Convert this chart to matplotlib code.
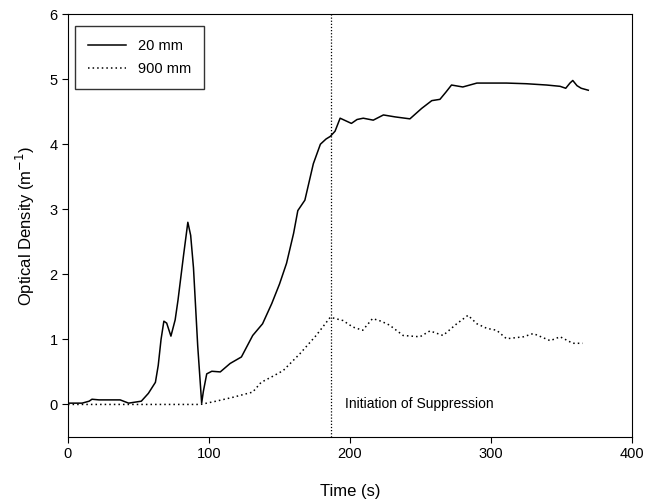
import numpy as np
import matplotlib.pyplot as plt

plt.rcParams['font.family'] = ['Liberation Sans', 'DejaVu Sans']

# 20 mm sensor
t20 = [0, 10, 15, 17, 22, 30, 37, 43, 52, 57, 62, 64, 66, 68, 70, 73, 76, 78, 82, 85, 87, 89,
       92, 94.8, 96, 98.4, 102, 108, 115, 123, 131, 138, 144.5, 150, 155, 160, 163, 168,
       174, 179, 183, 186, 189.4, 193, 197, 201, 205, 209.4, 216.5, 223.7, 232, 242.5,
       250.8, 258, 263.8, 268, 272, 280, 290, 300, 311, 325, 339.5, 349, 353, 356, 358,
       361, 364, 369]
od20 = [0.02, 0.02, 0.05, 0.08, 0.07, 0.07, 0.07, 0.02, 0.05, 0.17, 0.34, 0.6, 1.0, 1.28, 1.25,
        1.05, 1.3, 1.6, 2.3, 2.8, 2.6, 2.1, 0.9, 0.02, 0.2, 0.47, 0.51, 0.5, 0.63, 0.73,
        1.06, 1.24, 1.55, 1.85, 2.17, 2.63, 2.98, 3.14, 3.7, 4.0, 4.08, 4.12, 4.2, 4.4,
        4.36, 4.32, 4.38, 4.4, 4.37, 4.45, 4.42, 4.39, 4.55, 4.67, 4.69, 4.8, 4.91, 4.88,
        4.94, 4.94, 4.94, 4.93, 4.91, 4.89, 4.86, 4.94, 4.98, 4.9, 4.86, 4.83]

# 900 mm sensor
t900 = [0, 50, 94, 105, 117, 131, 137, 145, 152.6, 164.5, 176, 186, 195, 202, 209, 216,
        222, 228, 237.7, 249.6, 256.7, 266, 275.7, 283.7, 290, 297, 304, 311, 323, 330,
        342, 349, 358, 365]
od900 = [0.0, 0.0, 0.0, 0.05, 0.11, 0.19, 0.34, 0.43, 0.52, 0.78, 1.06, 1.34, 1.29, 1.19,
         1.14, 1.32, 1.28, 1.22, 1.06, 1.04, 1.13, 1.06, 1.24, 1.37, 1.24, 1.17, 1.14,
         1.01, 1.04, 1.09, 0.98, 1.04, 0.94, 0.94]

t_suppress = 186.5

fig = plt.figure(figsize=(6.5, 5.04), dpi=100)
ax = fig.add_axes([0.1046, 0.133, 0.8677, 0.839])

ax.plot(t20, od20, color='black', lw=1.1, label='20 mm')
ax.plot(t900, od900, color='black', lw=1.1, ls=(0, (1, 2)), label='900 mm')
ax.axvline(t_suppress, color='black', lw=0.9, ls=(0, (1, 1.5)))
ax.text(t_suppress + 10, 0, 'Initiation of Suppression', fontsize=10, va='center')

ax.set_xlim(0, 400)
ax.set_ylim(-0.5, 6)
ax.set_xticks([0, 100, 200, 300, 400])
ax.set_yticks([0, 1, 2, 3, 4, 5, 6])
ax.tick_params(direction='out', labelsize=10.5, length=4)
ax.set_xlabel('Time (s)', fontsize=12, labelpad=16)
ax.set_ylabel('Optical Density (m$^{-1}$)', fontsize=12, labelpad=9)

leg = ax.legend(loc='upper left', fontsize=10.5, frameon=True, fancybox=False,
                edgecolor='black', handlelength=2.6, borderpad=0.9, labelspacing=0.65,
                bbox_to_anchor=(0.0, 0.99))
leg.get_frame().set_linewidth(1.0)

fig.savefig('out.png', dpi=100)
